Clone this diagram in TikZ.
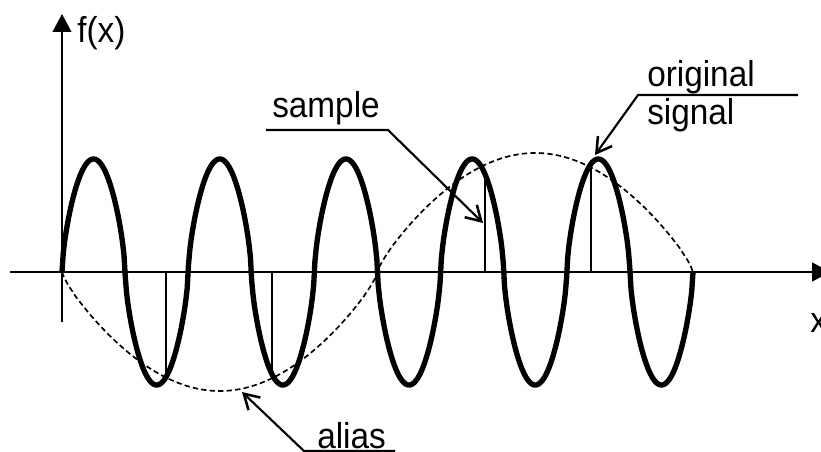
\documentclass[tikz,border=0pt]{standalone}
\usepackage{fontspec}
\setmainfont{Liberation Sans}
\usetikzlibrary{arrows.meta}
\begin{document}
\begin{tikzpicture}[x=0.75pt,y=-0.75pt,
  lbl/.style={font=\fontsize{25}{28}\selectfont, inner sep=0pt, yscale=1.08},
  axisline/.style={line width=2pt, -{Triangle[length=13.5pt,width=14pt]}},
  signalline/.style={line width=4pt, line join=round},
  aliasline/.style={line width=1.25pt, dash pattern=on 4pt off 2.4pt},
  sampleline/.style={line width=1.5pt},
  leader/.style={line width=1.6pt, line join=miter, -{Straight Barb[length=11pt,width=13pt,line width=1.9pt]}}
]
\clip (0,0) rectangle (821,452);
% axes
\coordinate (xs) at (10,272);
\coordinate (xe) at (830,272);
\coordinate (ys) at (62,322);
\coordinate (ye) at (62,14);
\draw[axisline, line width=2.1pt] (xs) -- (xe);
\draw[axisline, line width=1.6pt] (ys) -- (ye);
\node[lbl, anchor=base west] (fx) at (77,43) {f(x)};
\node[lbl, anchor=base west] (xl) at (810,332) {x};
% alias (dashed)
\draw[aliasline] plot[domain=62:693, samples=300]
  (\x, {272+119*sign(sin((\x-62)*0.570523))*pow(abs(sin((\x-62)*0.570523))+0.00001,0.8)});
% samples
\foreach \n/\sx/\sy in {s1/166/378, s2/272/378, s3/485/172, s4/591/160}{
  \coordinate (\n a) at (\sx,272);
  \coordinate (\n b) at (\sx,\sy);
  \draw[sampleline] (\n a) -- (\n b);
}
% original signal
\draw[signalline] plot[domain=62:693, samples=500]
  (\x, {272-113*sign(sin((\x-62)*2.852615))*pow(abs(sin((\x-62)*2.852615))+0.00001,0.65)});
% labels and leaders
\node[lbl, anchor=base west] (sample) at (272,118) {sample};
\coordinate (sampleL) at (266,130);
\coordinate (sampleR) at (388,130);
\coordinate (sampletip) at (483,223);
\draw[leader] (sampleL) -- (sampleR) -- (sampletip);

\node[lbl, anchor=base west] (orig) at (647,87) {original};
\node[lbl, anchor=base west] (sig) at (647,125) {signal};
\coordinate (origR) at (798,95);
\coordinate (origL) at (638,95);
\coordinate (origtip) at (595,155);
\draw[leader] (origR) -- (origL) -- (origtip);

\node[lbl, anchor=base west] (alias) at (317,448) {alias};
\coordinate (aliasR) at (395,451);
\coordinate (aliasL) at (304,451);
\coordinate (aliastip) at (242,392);
\draw[leader] (aliasR) -- (aliasL) -- (aliastip);
\end{tikzpicture}
\end{document}
